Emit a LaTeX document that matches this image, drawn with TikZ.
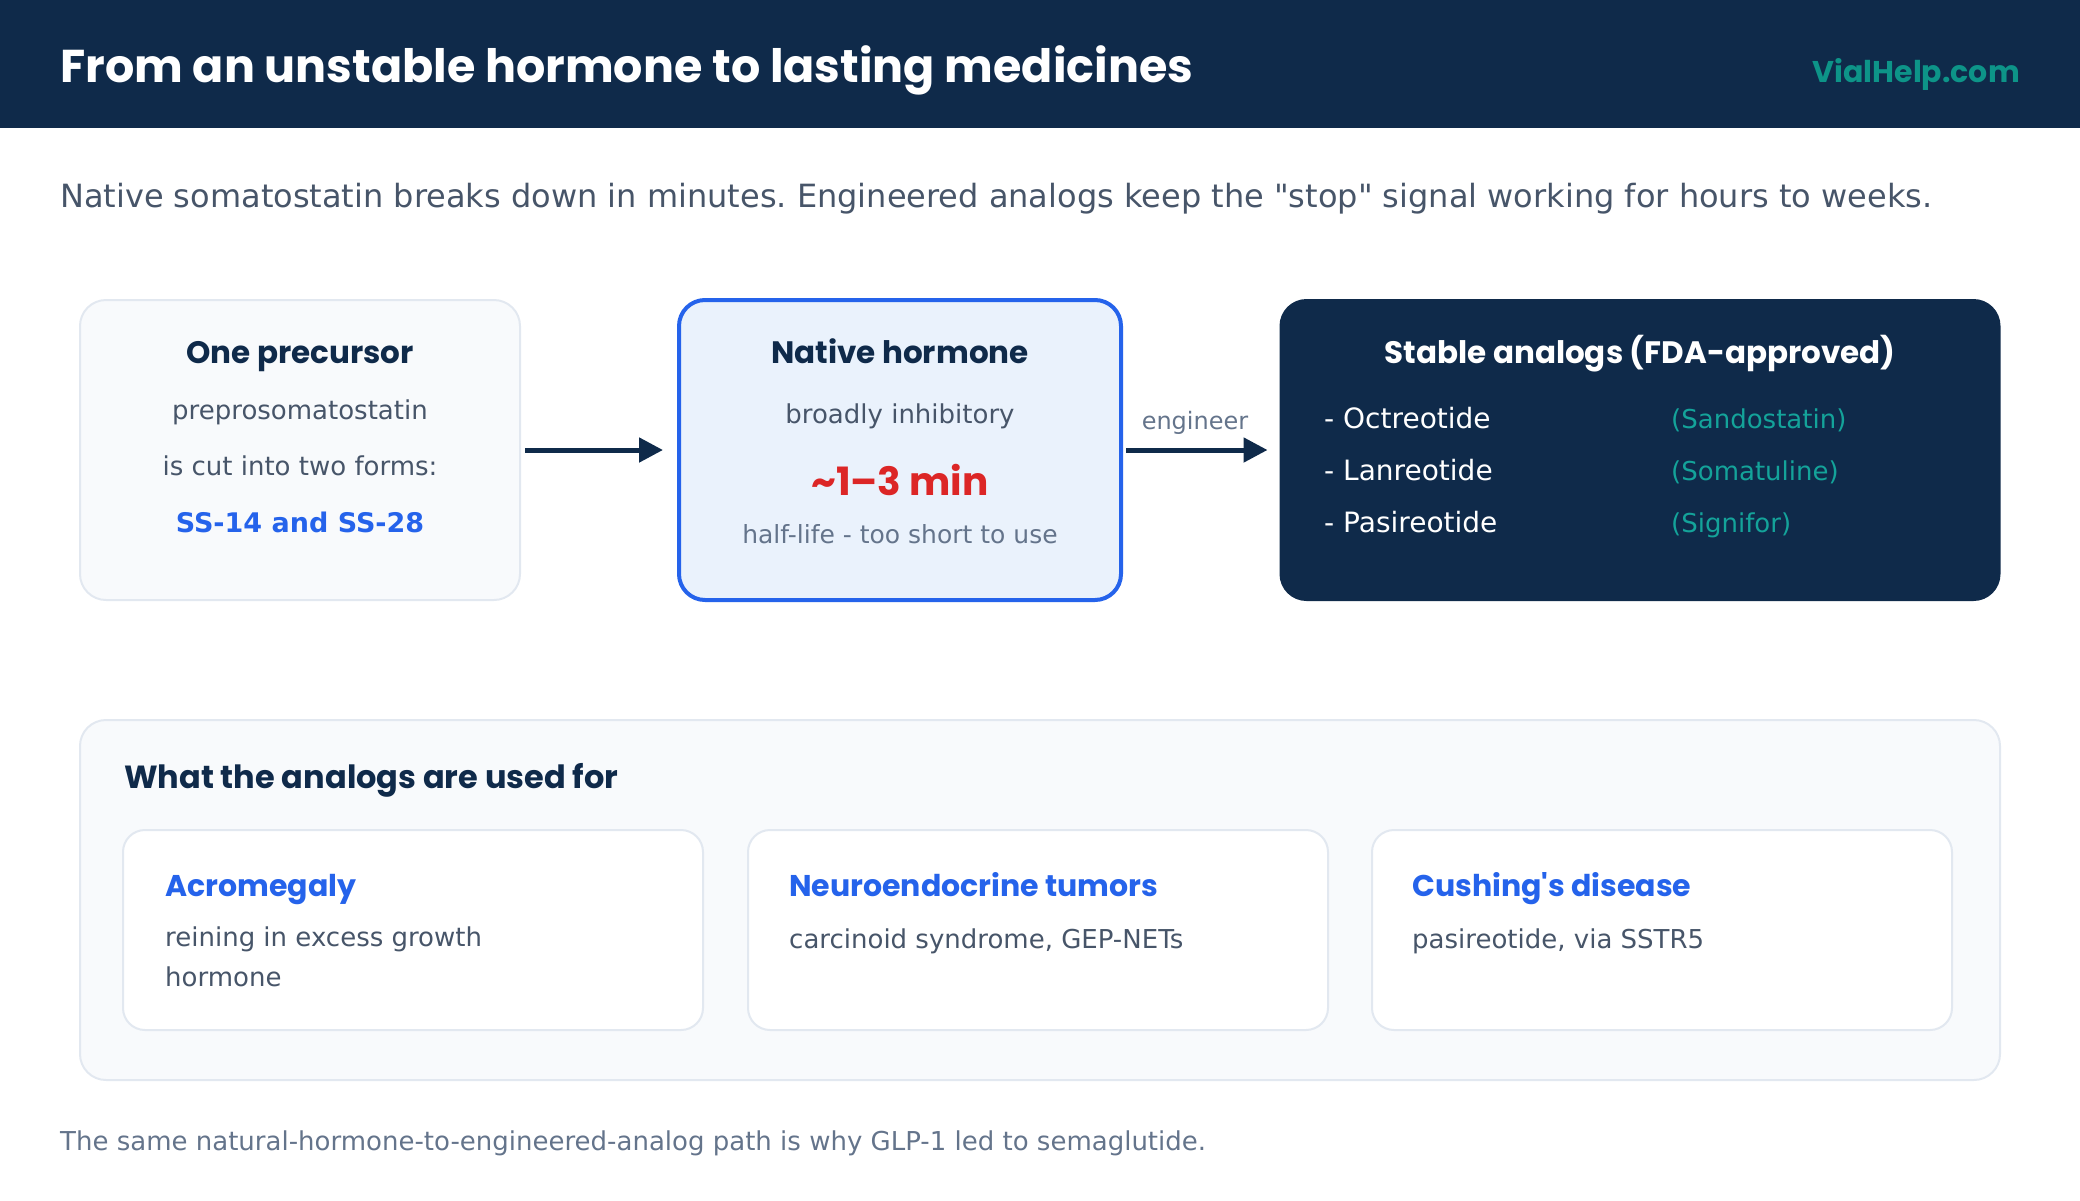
\documentclass[tikz,border=0pt]{standalone}
\usepackage{fontspec}
\setmainfont{DejaVu Sans}
\newfontfamily\plainfont{DejaVu Sans}
\newfontfamily\pop{Poppins}
\usetikzlibrary{arrows.meta}
\definecolor{navy}{HTML}{0F2A4A}
\definecolor{teal}{HTML}{0D9488}
\definecolor{brand}{HTML}{14A39A}
\definecolor{slate}{HTML}{475569}
\definecolor{mute}{HTML}{64748B}
\definecolor{blue}{HTML}{2563EB}
\definecolor{red}{HTML}{DC2626}
\definecolor{paper}{HTML}{F8FAFC}
\definecolor{edge}{HTML}{E2E8F0}
\definecolor{iceblue}{HTML}{EAF2FC}
\frenchspacing
\begin{document}
\begin{tikzpicture}[x=1pt,y=-1pt,every node/.style={inner sep=0pt},
  panel/.style={draw=edge,fill=paper,line width=2pt,rounded corners=26pt},
  card/.style={draw=edge,fill=white,line width=2pt,rounded corners=22pt,minimum width=580pt,minimum height=200pt},
  flow/.style={line width=5pt,draw=navy,-{Triangle[length=24pt,width=24pt]}},
  head/.style={font=\pop\bfseries\fontsize{31}{36}\selectfont,text=navy,anchor=base},
  body/.style={font=\fontsize{26}{40}\selectfont,text=slate,anchor=base},
  item/.style={font=\fontsize{28}{32}\selectfont,anchor=base west}]
\useasboundingbox (0,0) rectangle (2080,1200);
\fill[navy] (0,0) rectangle (2080,128);
\node[anchor=base west,text=white,font=\pop\bfseries\fontsize{46}{52}\selectfont] (title) at (60,82) {From an unstable hormone to lasting medicines};
\node[anchor=base east,text=teal,font=\pop\bfseries\fontsize{30}{34}\selectfont] (site) at (2020,82) {VialHelp.com};
\node[anchor=base west,text=slate,font=\plainfont\fontsize{32}{36}\selectfont] (lead) at (60,207) {Native somatostatin breaks down in minutes. Engineered analogs keep the "stop" signal working for hours to weeks.};

\node[panel,minimum width=440pt,minimum height=300pt] (pre) at (300,450) {};
\node[panel,draw=blue,fill=iceblue,line width=4pt,minimum width=442pt,minimum height=300pt] (nat) at (900,450) {};
\node[panel,draw=navy,fill=navy,minimum width=719pt,minimum height=300pt] (ana) at (1640,450) {};
\draw[flow,shorten <=4pt,shorten >=14pt] (pre) -- (nat);
\draw[flow,shorten <=3pt,shorten >=12pt] (nat) -- (ana);
\node[anchor=base,text=mute,font=\fontsize{24}{28}\selectfont] (eng) at (1195,429) {engineer};

\node[head] (preh) at (300,363) {One precursor};
\node[body] (pre1) at (300,419) {preprosomatostatin};
\node[body] (pre2) at (300,475) {is cut into two forms:};
\node[body,text=blue,font=\bfseries\fontsize{27}{30}\selectfont] (pre3) at (300,532) {SS-14 and SS-28};

\node[head] (nath) at (900,363) {Native hormone};
\node[body] (nat1) at (900,423) {broadly inhibitory};
\node[anchor=base,text=red,font=\pop\bfseries\fontsize{39}{46}\selectfont] (nat2) at (900,495) {\textasciitilde1–3 min};
\node[body,text=mute,font=\fontsize{25}{28}\selectfont] (nat3) at (900,543) {half-life - too short to use};

\node[head,text=white] (anah) at (1640,363) {Stable analogs (FDA-approved)};
\node[item,text=white] (oct) at (1324,428) {- Octreotide};\node[item,text=brand,font=\fontsize{26}{30}\selectfont] (octb) at (1671,428) {(Sandostatin)};
\node[item,text=white] (lan) at (1324,480) {- Lanreotide};\node[item,text=brand,font=\fontsize{26}{30}\selectfont] (lanb) at (1671,480) {(Somatuline)};
\node[item,text=white] (pas) at (1324,532) {- Pasireotide};\node[item,text=brand,font=\fontsize{26}{30}\selectfont] (pasb) at (1671,532) {(Signifor)};

\node[panel,minimum width=1920pt,minimum height=360pt] (uses) at (1040,900) {};
\node[head,anchor=base west,font=\pop\bfseries\fontsize{32}{36}\selectfont] (usesh) at (124,788) {What the analogs are used for};
\node[card] (acro) at (413,930) {};
\node[card] (net) at (1038,930) {};
\node[card] (cush) at (1662,930) {};
\node[head,anchor=base west,text=blue,font=\pop\bfseries\fontsize{30}{36}\selectfont] (acroh) at (165,896) {Acromegaly};
\node[body,anchor=north west,align=left] (acro1) at (165,927) {reining in excess growth\\hormone};
\node[head,anchor=base west,text=blue,font=\pop\bfseries\fontsize{30}{36}\selectfont] (neth) at (789,896) {Neuroendocrine tumors};
\node[body,anchor=base west] (net1) at (789,948) {carcinoid syndrome, GEP-NETs};
\node[head,anchor=base west,text=blue,font=\pop\bfseries\fontsize{30}{36}\selectfont] (cushh) at (1412,896) {Cushing's disease};
\node[body,anchor=base west] (cush1) at (1412,948) {pasireotide, via SSTR5};

\node[anchor=base west,text=mute,font=\fontsize{26}{28}\selectfont] (foot) at (60,1150) {The same natural-hormone-to-engineered-analog path is why GLP-1 led to semaglutide.};
\end{tikzpicture}
\end{document}
